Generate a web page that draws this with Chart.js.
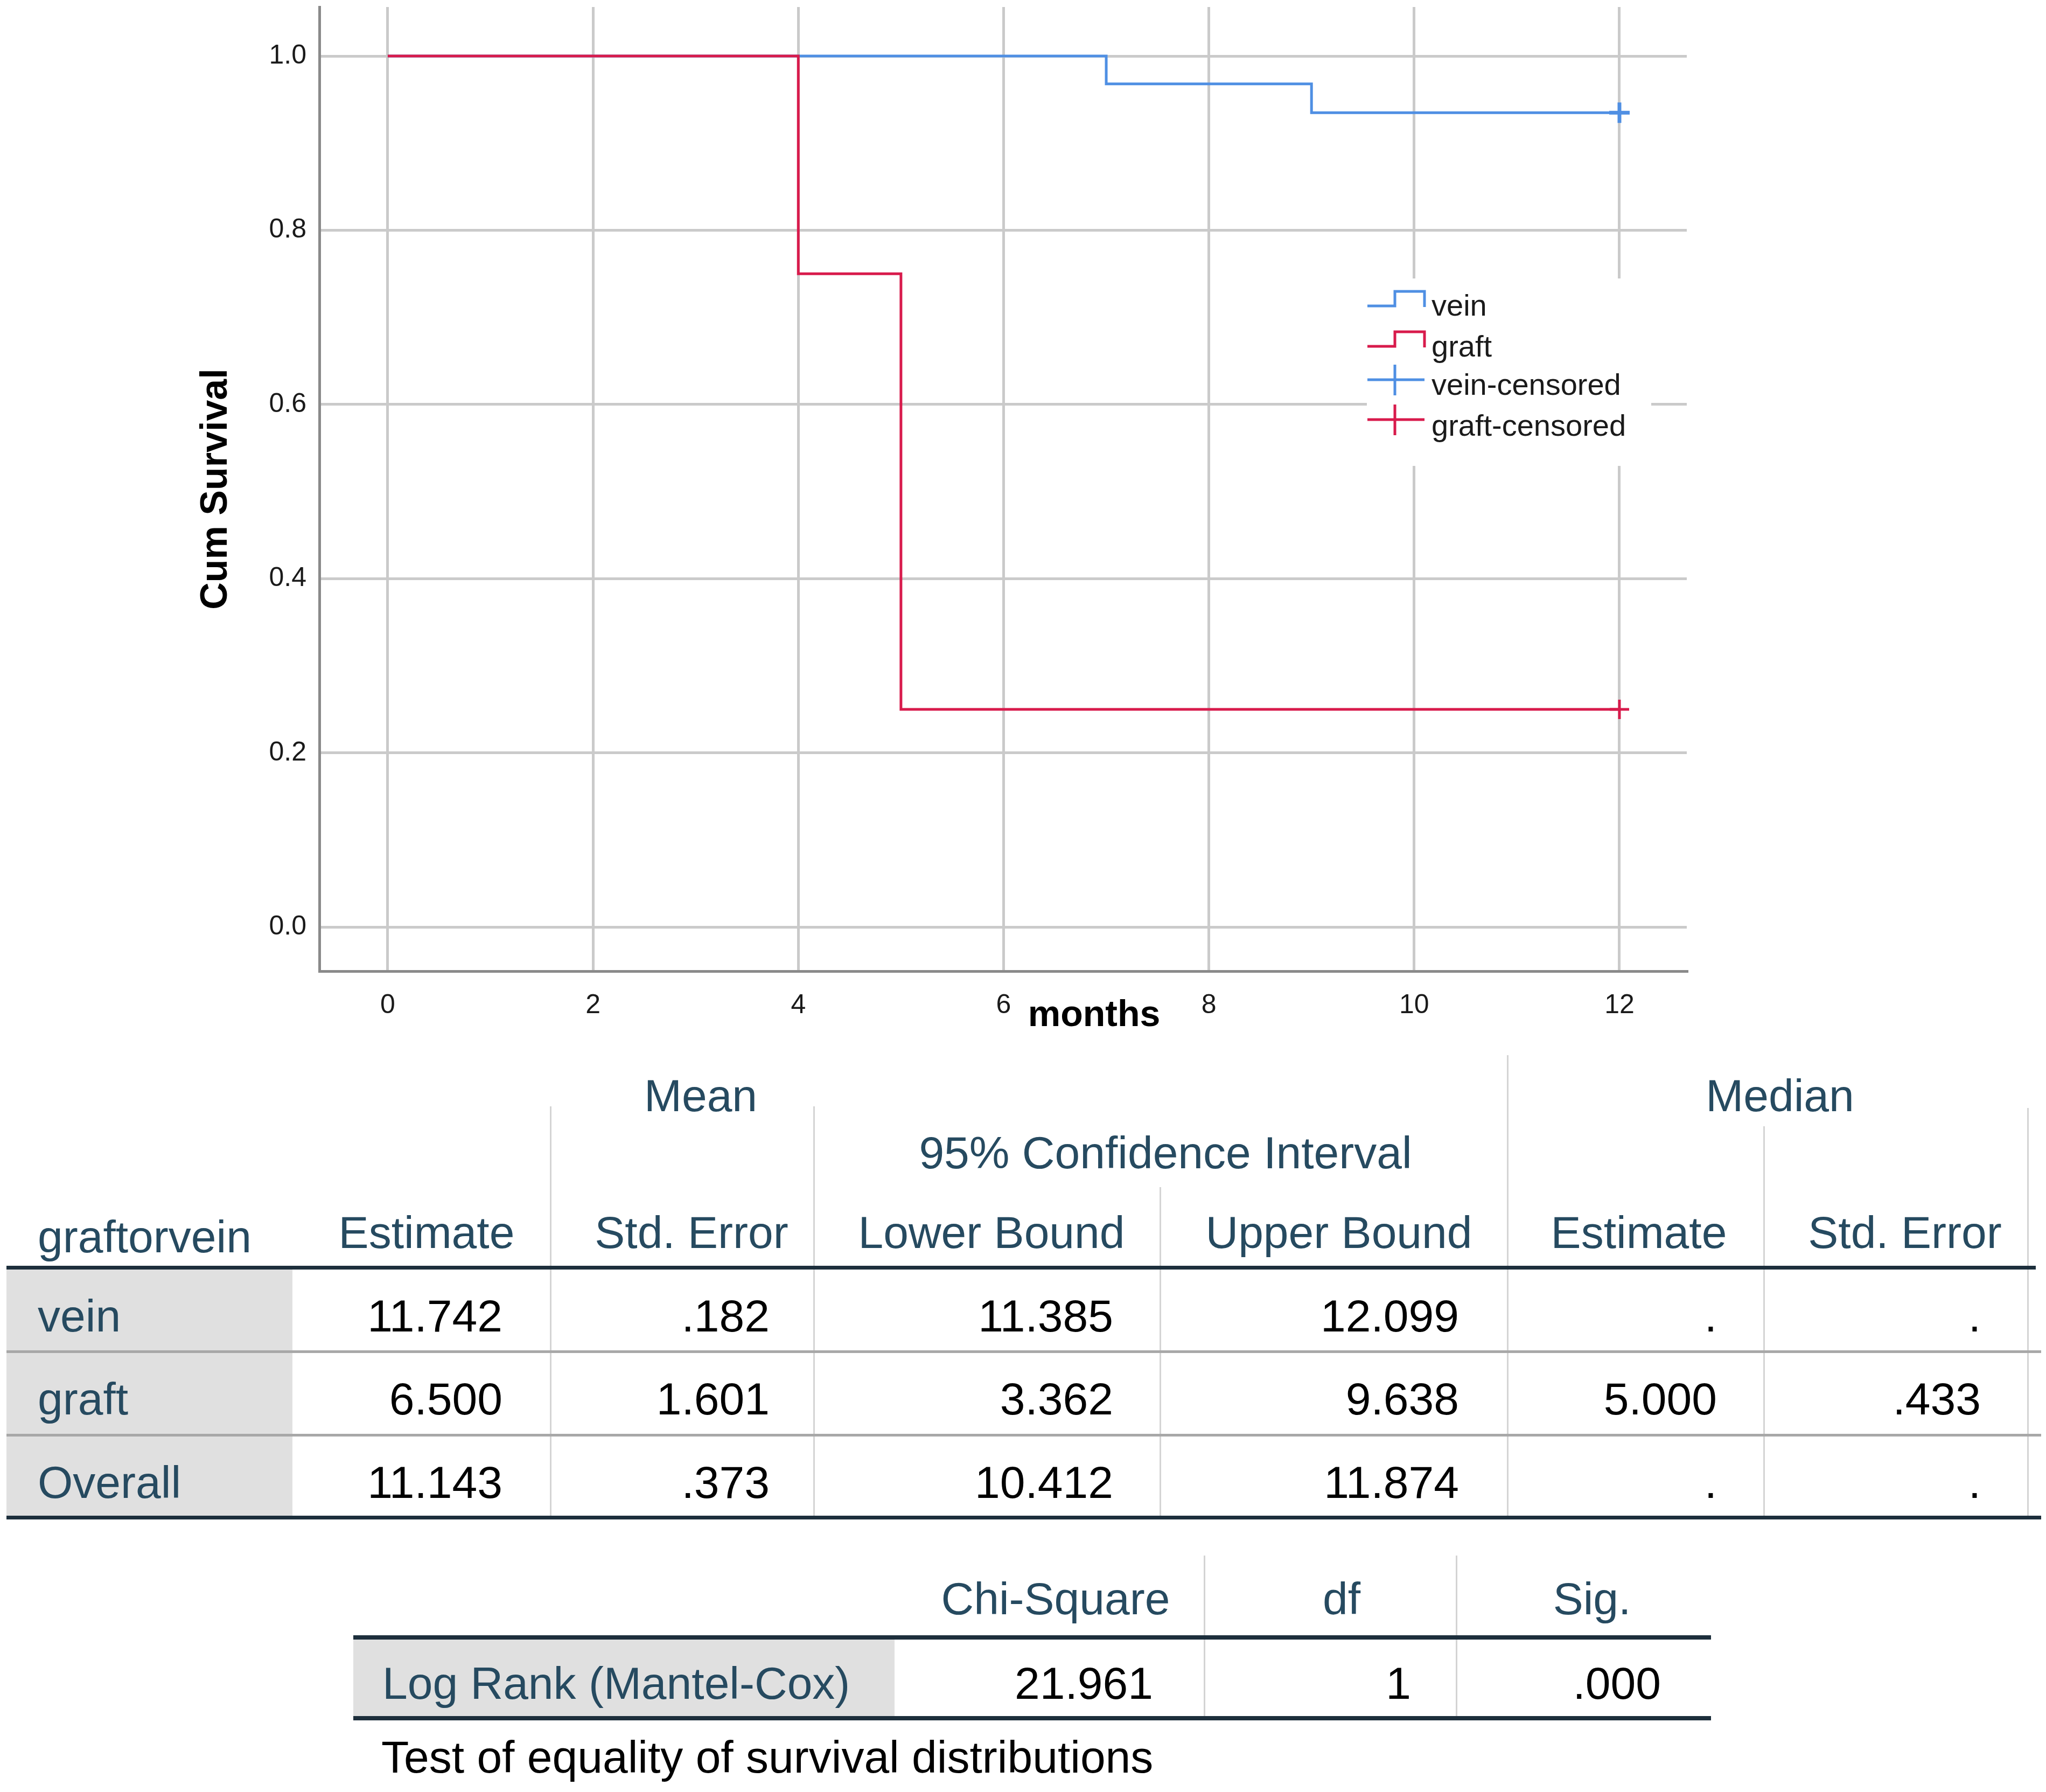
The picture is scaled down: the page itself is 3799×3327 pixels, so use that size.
<!DOCTYPE html>
<html>
<head>
<meta charset="utf-8">
<script src="https://cdn.jsdelivr.net/npm/chart.js@4.4.1/dist/chart.umd.min.js"></script>
<style>
html,body{margin:0;padding:0;background:#fff;}
#wrap{position:relative;width:3799px;height:3327px;overflow:hidden;background:#fff;}
#km{position:absolute;left:0;top:-13px;}
.t{position:absolute;font-family:"Liberation Sans",Arial,sans-serif;font-size:84px;line-height:1;white-space:nowrap;}
.h{color:#264a60;}
.v{color:#000;}
.ln{position:absolute;}
</style>
</head>
<body>
<div id="wrap">
<canvas id="km" width="3799" height="1973"></canvas>
</div>
<script>
// ---------- chart data ----------
const veinTimes = [0, 7, 9, 12];
const veinSurvival = [1.0, 0.968, 0.935, 0.935];
const graftTimes = [0, 4, 5, 12];
const graftSurvival = [1.0, 0.75, 0.25, 0.25];
const veinCensoredTimes = [12];
const veinCensoredSurvival = [0.935];
const graftCensoredTimes = [12];
const graftCensoredSurvival = [0.25];
const xTickValues = [0, 2, 4, 6, 8, 10, 12];
const yTickValues = [0.0, 0.2, 0.4, 0.6, 0.8, 1.0];
const legendLabels = ['vein', 'graft', 'vein-censored', 'graft-censored'];
const xAxisTitle = 'months';
const yAxisTitle = 'Cum Survival';

// ---------- table data ----------
const groupLabels = ['vein', 'graft', 'Overall'];
const meanEstimate = ['11.742', '6.500', '11.143'];
const meanStdError = ['.182', '1.601', '.373'];
const meanLowerBound = ['11.385', '3.362', '10.412'];
const meanUpperBound = ['12.099', '9.638', '11.874'];
const medianEstimate = ['.', '5.000', '.'];
const medianStdError = ['.', '.433', '.'];
const tableColumnHeaders = ['Estimate', 'Std. Error', 'Lower Bound', 'Upper Bound', 'Estimate', 'Std. Error'];
const testNames = ['Log Rank (Mantel-Cox)'];
const chiSquare = ['21.961'];
const testDf = ['1'];
const testSig = ['.000'];
const testHeaders = ['Chi-Square', 'df', 'Sig.'];
const testCaption = 'Test of equality of survival distributions';

const VEIN = '#4f8fe3';
const GRAFT = '#d81b4c';
const OY = 13; // canvas is shifted up by this many pixels

const toPts = (xs, ys) => xs.map((x, i) => ({x: x, y: ys[i]}));

const overlayPlugin = {
  id: 'overlay',
  afterDraw(chart) {
    const ctx = chart.ctx;
    const ca = chart.chartArea;
    ctx.save();
    // x axis title (offset to the right as in the reference)
    ctx.fillStyle = '#000';
    ctx.font = 'bold 68px "Liberation Sans", Arial, sans-serif';
    ctx.textAlign = 'center';
    ctx.textBaseline = 'alphabetic';
    ctx.fillText(xAxisTitle, (ca.left + ca.right) / 2 + 169, 1905 + OY);

    // legend box
    ctx.fillStyle = '#fff';
    ctx.fillRect(2538, 517 + OY, 528, 348);
    const colors = [VEIN, GRAFT, VEIN, GRAFT];
    const rowY = [568, 643, 705, 779];
    const x0 = 2539, xm = 2590, x1 = 2645;
    ctx.lineWidth = 5;
    ctx.lineCap = 'butt';
    for (let i = 0; i < 4; i++) {
      ctx.strokeStyle = colors[i];
      ctx.beginPath();
      const y = rowY[i] + OY;
      if (i < 2) {
        ctx.moveTo(x0, y); ctx.lineTo(xm, y); ctx.lineTo(xm, y - 27);
        ctx.lineTo(x1, y - 27); ctx.lineTo(x1, y + 2);
      } else {
        ctx.moveTo(x0, y); ctx.lineTo(x1, y);
        ctx.moveTo(xm, y - 28); ctx.lineTo(xm, y + 29);
      }
      ctx.stroke();
    }
    ctx.fillStyle = '#1a1a1a';
    ctx.font = '56px "Liberation Sans", Arial, sans-serif';
    ctx.textAlign = 'left';
    ctx.textBaseline = 'alphabetic';
    const textBase = [586, 662, 733, 809];
    for (let i = 0; i < 4; i++) {
      ctx.fillText(legendLabels[i], 2658, textBase[i] + OY);
    }
    ctx.restore();
  }
};

new Chart(document.getElementById('km'), {
  type: 'line',
  data: {
    datasets: [
      {label: 'graft-censored', data: toPts(graftCensoredTimes, graftCensoredSurvival), showLine: false,
       pointStyle: 'cross', pointRadius: 18, pointBorderWidth: 5, borderColor: GRAFT, backgroundColor: GRAFT},
      {label: 'vein-censored', data: toPts(veinCensoredTimes, veinCensoredSurvival), showLine: false,
       pointStyle: 'cross', pointRadius: 19, pointBorderWidth: 7, borderColor: VEIN, backgroundColor: VEIN},
      {label: 'graft', data: toPts(graftTimes, graftSurvival), stepped: true, borderColor: GRAFT,
       borderWidth: 5, pointRadius: 0, fill: false},
      {label: 'vein', data: toPts(veinTimes, veinSurvival), stepped: true, borderColor: VEIN,
       borderWidth: 5, pointRadius: 0, fill: false}
    ]
  },
  options: {
    responsive: false,
    animation: false,
    devicePixelRatio: 1,
    layout: {padding: {left: 0, right: 667, top: 8, bottom: 0}},
    plugins: {legend: {display: false}, tooltip: {enabled: false}},
    scales: {
      x: {
        type: 'linear', min: -0.666, max: 12.656,
        afterBuildTicks: s => { s.ticks = xTickValues.map(v => ({value: v})); },
        afterFit: s => { s.height = 157; s.paddingLeft = 0; s.paddingRight = 0; },
        ticks: {font: {family: '"Liberation Sans", Arial, sans-serif', size: 50}, color: '#1a1a1a',
                padding: 34, maxRotation: 0, autoSkip: false},
        grid: {color: '#cacaca', lineWidth: 5, drawTicks: false},
        border: {color: '#8a8a8a', width: 5}
      },
      y: {
        type: 'linear', min: -0.0505, max: 1.0563,
        afterBuildTicks: s => { s.ticks = yTickValues.map(v => ({value: v})); },
        afterFit: s => { s.width = 593; s.paddingTop = 0; s.paddingBottom = 0; },
        ticks: {font: {family: '"Liberation Sans", Arial, sans-serif', size: 50}, color: '#1a1a1a',
                padding: 24, callback: v => Number(v).toFixed(1)},
        grid: {color: '#cacaca', lineWidth: 5, drawTicks: false},
        border: {color: '#8a8a8a', width: 5},
        title: {display: true, text: yAxisTitle, color: '#000',
                font: {family: '"Liberation Sans", Arial, sans-serif', size: 70, weight: 'bold'},
                padding: {top: 360, bottom: 0}}
      }
    }
  },
  plugins: [overlayPlugin]
});

// ---------- tables (HTML text) ----------
const wrap = document.getElementById('wrap');
function txt(s, x, y, align, cls) {
  const d = document.createElement('div');
  d.className = 't ' + cls;
  d.textContent = s;
  d.style.left = x + 'px';
  d.style.top = y + 'px';
  const tx = align === 'center' ? '-50%' : (align === 'right' ? '-100%' : '0');
  d.style.transform = 'translate(' + tx + ',-50%)';
  wrap.appendChild(d);
}
function rect(x, y, w, h, color) {
  const d = document.createElement('div');
  d.className = 'ln';
  d.style.left = x + 'px'; d.style.top = y + 'px';
  d.style.width = w + 'px'; d.style.height = h + 'px';
  d.style.background = color;
  wrap.appendChild(d);
}

// table 1 backgrounds and lines
rect(12, 2357, 531, 457, '#e0e0e0');
[[1022, 2054], [1511, 2054], [2154, 2204], [2799, 1959], [3275, 2091], [3765, 2057]].forEach(p => {
  rect(p[0] - 1, p[1], 3, 2817 - p[1], '#d4d4d4');
});
rect(12, 2350, 3768, 7, '#1d2f3c');
rect(12, 2507, 3778, 5, '#a8a8a8');
rect(12, 2662, 3778, 5, '#a8a8a8');
rect(12, 2814, 3778, 7, '#1d2f3c');

// table 1 text
txt('Mean', 1301, 2034, 'center', 'h');
txt('Median', 3305, 2034, 'center', 'h');
txt('95% Confidence Interval', 2164, 2140, 'center', 'h');
txt('graftorvein', 70, 2296, 'left', 'h');
const headerCx = [792, 1284, 1841, 2486, 3043, 3537];
tableColumnHeaders.forEach((h, i) => txt(h, headerCx[i], 2288, 'center', 'h'));
const colRight = [933, 1429, 2067, 2709, 3188, 3678];
const rowCy = [2443, 2597, 2752];
const cols = [meanEstimate, meanStdError, meanLowerBound, meanUpperBound, medianEstimate, medianStdError];
groupLabels.forEach((g, r) => {
  txt(g, 70, rowCy[r], 'left', 'h');
  cols.forEach((c, k) => txt(c[r], colRight[k], rowCy[r], 'right', 'v'));
});

// table 2
rect(656, 3044, 1005, 142, '#e0e0e0');
[2236, 2704].forEach(x => rect(x - 1, 2888, 3, 3190 - 2888, '#d4d4d4'));
rect(656, 3036, 2521, 8, '#1d2f3c');
rect(656, 3186, 2521, 8, '#1d2f3c');
const testCx = [1960, 2491, 2956];
testHeaders.forEach((h, i) => txt(h, testCx[i], 2968, 'center', 'h'));
const testRight = [2141, 2620, 3084];
testNames.forEach((n, r) => {
  txt(n, 710, 3125, 'left', 'h');
  [chiSquare, testDf, testSig].forEach((c, k) => txt(c[r], testRight[k], 3125, 'right', 'v'));
});
txt(testCaption, 708, 3262, 'left', 'v');
</script>
</body>
</html>
